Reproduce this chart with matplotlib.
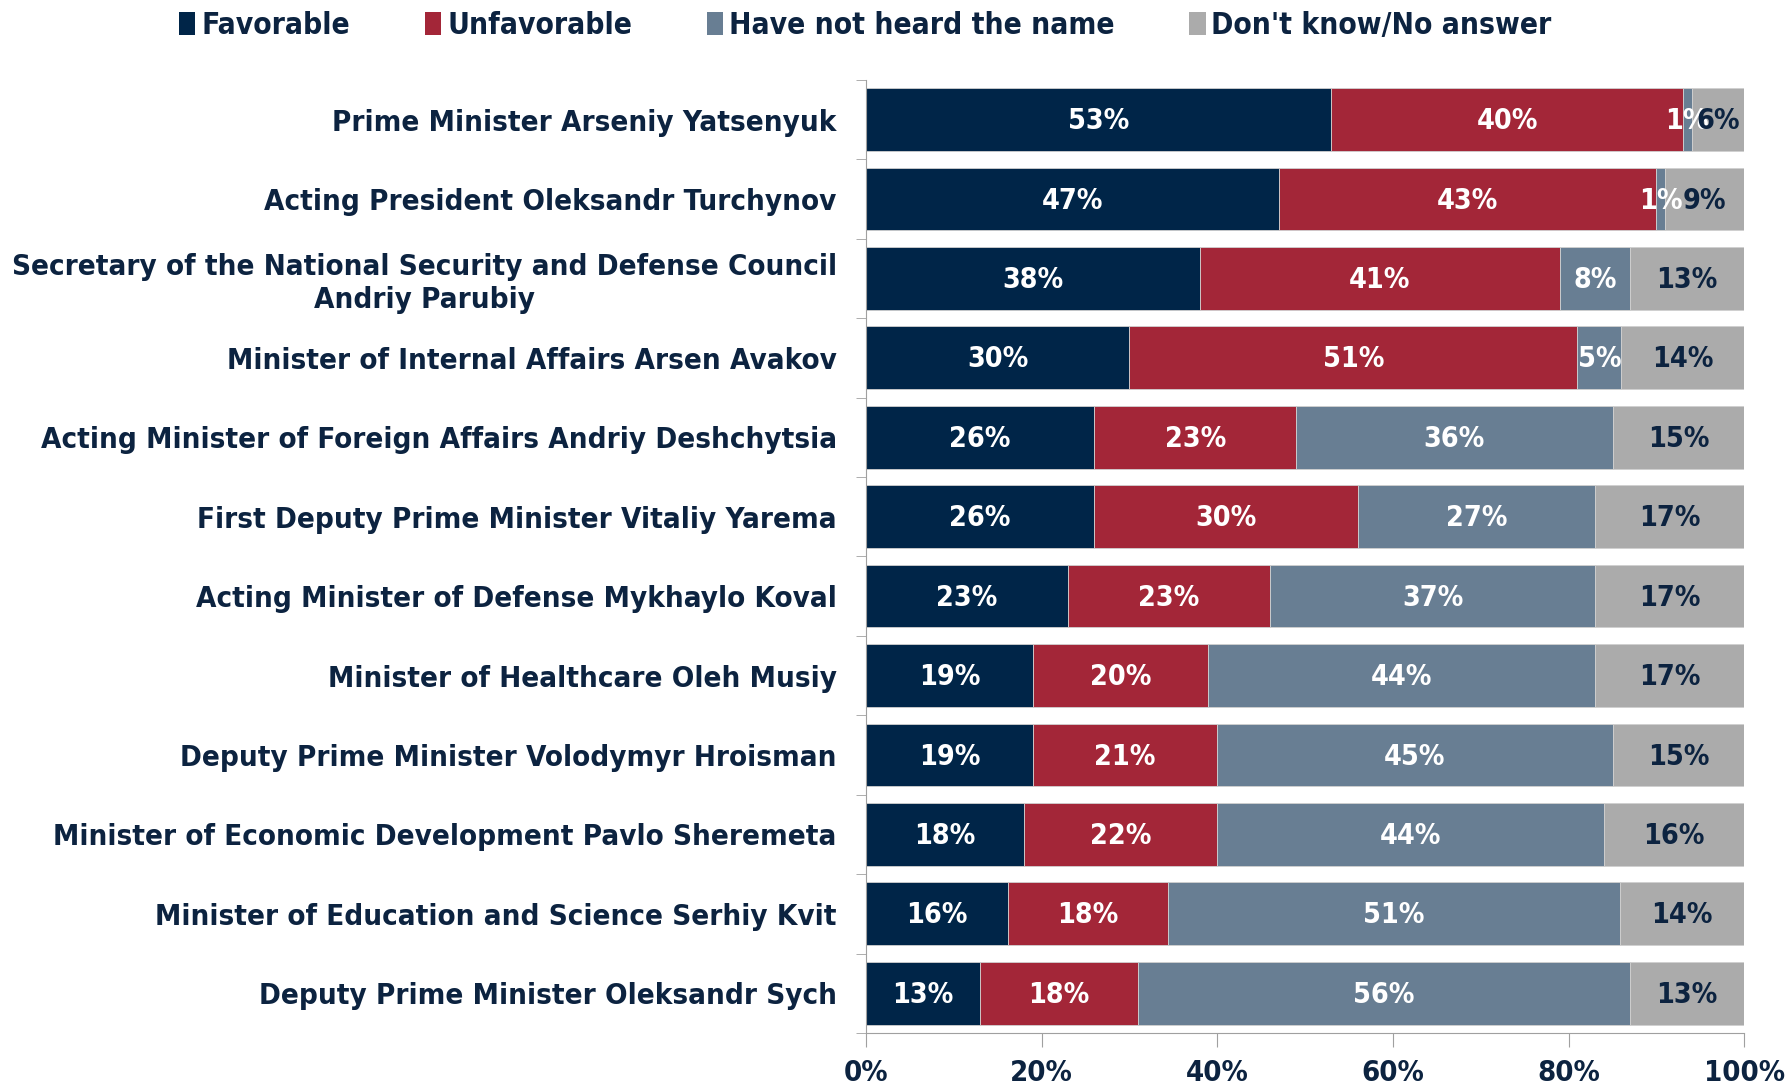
import matplotlib
matplotlib.use('Agg')
import matplotlib.pyplot as plt
import numpy as np

names = [
    'Prime Minister Arseniy Yatsenyuk',
    'Acting President Oleksandr Turchynov',
    'Secretary of the National Security and Defense Council\nAndriy Parubiy',
    'Minister of Internal Affairs Arsen Avakov',
    'Acting Minister of Foreign Affairs Andriy Deshchytsia',
    'First Deputy Prime Minister Vitaliy Yarema',
    'Acting Minister of Defense Mykhaylo Koval',
    'Minister of Healthcare Oleh Musiy',
    'Deputy Prime Minister Volodymyr Hroisman',
    'Minister of Economic Development Pavlo Sheremeta',
    'Minister of Education and Science Serhiy Kvit',
    'Deputy Prime Minister Oleksandr Sych',
]
favorable = [53, 47, 38, 30, 26, 26, 23, 19, 19, 18, 16, 13]
unfavorable = [40, 43, 41, 51, 23, 30, 23, 20, 21, 22, 18, 18]
not_heard = [1, 1, 8, 5, 36, 27, 37, 44, 45, 44, 51, 56]
dont_know = [6, 9, 13, 14, 15, 17, 17, 17, 15, 16, 14, 13]

series = ['Favorable', 'Unfavorable', 'Have not heard the name', "Don't know/No answer"]
colors = ['#002548', '#A32638', '#687E93', '#ABABAB']
label_colors = ['white', 'white', 'white', '#0C2340']
navy = '#0C2340'

plt.rcParams['font.family'] = ['DejaVu Sans']
plt.rcParams['font.weight'] = 'bold'

fig = plt.figure(figsize=(17.89, 10.88), dpi=100)
ax = fig.add_axes([0.484, 0.0506, 0.491, 0.876])

y = np.arange(len(names))
data = np.array([favorable, unfavorable, not_heard, dont_know], dtype=float)
# 100% stacked: each row is scaled to its own total
shares = data / data.sum(axis=0) * 100
left = np.zeros(len(names))
for raw, vals, col, lc, lab in zip(data, shares, colors, label_colors, series):
    ax.barh(y, vals, left=left, height=0.79, color=col, label=lab,
            edgecolor='#D0D0D0', linewidth=0.6)
    for yi, l, v, r in zip(y, left, vals, raw):
        ax.text(l + v / 2, yi + 0.02, f'{int(r)}%', ha='center', va='center',
                color=lc, fontsize=20.5, fontweight='bold', fontstretch='condensed')
    left += vals

ax.set_xlim(0, 100)
ax.set_ylim(len(names) - 0.5, -0.5)
ax.set_yticks(y)
ax.set_yticklabels(names, fontsize=21.2, color=navy, fontweight='bold',
                   fontstretch='condensed', multialignment='center')
ax.set_yticks(np.arange(len(names) + 1) - 0.5, minor=True)
ax.tick_params(axis='y', which='major', length=0, pad=21)
ax.tick_params(axis='y', which='minor', length=7, color='#A0A0A0', direction='out')
ax.set_xticks(np.arange(0, 101, 20))
ax.set_xticklabels([f'{v}%' for v in range(0, 101, 20)], fontsize=21,
                   color=navy, fontweight='bold', fontstretch='condensed')
ax.tick_params(axis='x', length=10, color='#A0A0A0', pad=9)

for s in ['top', 'right']:
    ax.spines[s].set_visible(False)
ax.spines['left'].set_color('#A0A0A0')
ax.spines['bottom'].set_color('#A0A0A0')

leg = fig.legend(loc='center left', bbox_to_anchor=(0.085, 0.977), ncol=4, frameon=False,
                 handlelength=0.55, handleheight=0.8, handletextpad=0.2,
                 columnspacing=2.5, prop={'weight': 'bold', 'size': 21.5, 'stretch': 'condensed'})
for t in leg.get_texts():
    t.set_color(navy)
for h in leg.legend_handles:
    h.set_edgecolor('none')

fig.savefig('out.png', dpi=100)
